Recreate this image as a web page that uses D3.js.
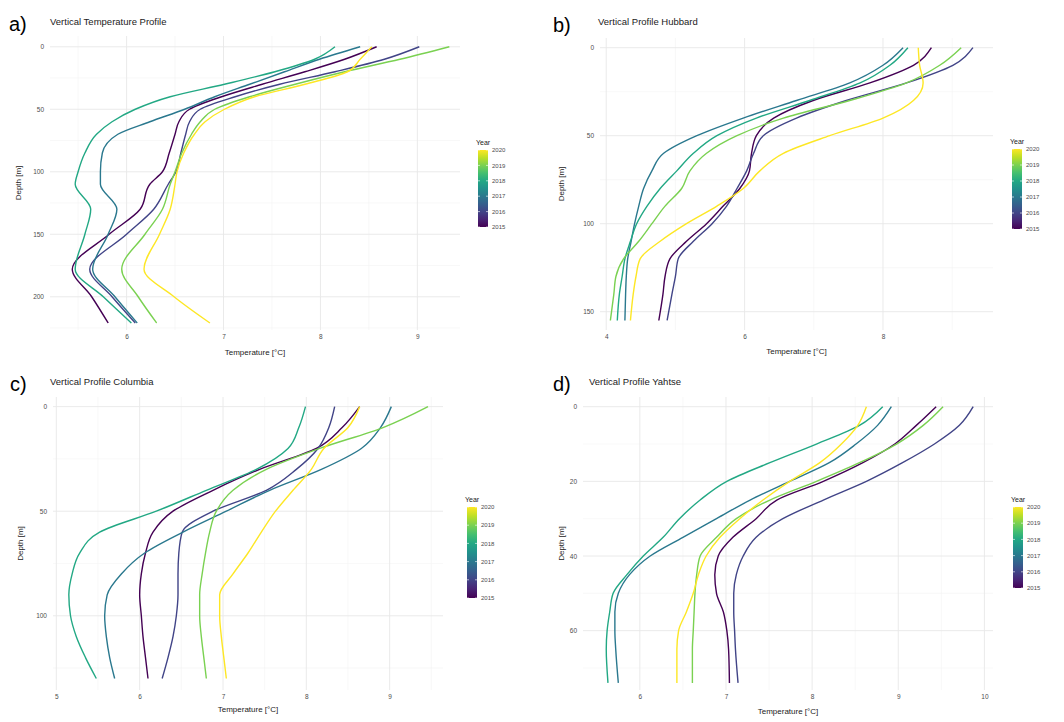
<!DOCTYPE html>
<html>
<head>
<meta charset="utf-8">
<script src="https://cdn.jsdelivr.net/npm/d3@7"></script>
<style>
  body { margin: 0; background: #fff; }
  svg { display: block; font-family: "Liberation Sans", Arial, sans-serif; }
</style>
</head>
<body>
<svg id="chart" width="1064" height="722"></svg>
<script>

var years = [2015, 2016, 2017, 2018, 2019, 2020];

// a) all glaciers
var aDepth = [0, 10, 20, 30, 40, 50, 60, 70, 85, 100, 110, 130, 150, 178, 200, 221];
var aTemps = [
    [8.58, 8.25, 7.84, 7.40, 6.98, 6.65, 6.54, 6.50, 6.44, 6.37, 6.24, 6.14, 5.82, 5.44, 5.64, 5.81],
    [9.02, 8.66, 8.15, 7.58, 7.12, 6.76, 6.65, 6.61, 6.56, 6.51, 6.43, 6.28, 6.00, 5.62, 5.85, 6.09],
    [8.41, 7.99, 7.63, 7.27, 6.91, 6.60, 6.24, 5.91, 5.75, 5.73, 5.73, 5.90, 5.81, 5.65, 5.88, 6.11],
    [8.15, 7.94, 7.53, 7.01, 6.45, 6.09, 5.85, 5.69, 5.57, 5.50, 5.47, 5.63, 5.57, 5.47, 5.76, 6.05],
    [9.33, 8.82, 8.25, 7.74, 7.27, 6.91, 6.76, 6.67, 6.57, 6.50, 6.45, 6.37, 6.19, 5.95, 6.12, 6.31],
    [8.53, 8.41, 8.28, 7.84, 7.32, 7.01, 6.81, 6.70, 6.59, 6.52, 6.50, 6.45, 6.34, 6.18, 6.49, 6.86]
];

// b) Hubbard
var bDepth = [0, 10, 20, 30, 40, 50, 60, 70, 80, 90, 100, 110, 120, 130, 140, 155];
var bTemps = [
    [8.70, 8.44, 7.81, 6.99, 6.42, 6.17, 6.10, 6.07, 5.93, 5.69, 5.45, 5.16, 4.92, 4.85, 4.82, 4.76],
    [9.30, 9.01, 8.34, 7.47, 6.75, 6.27, 6.13, 6.03, 5.89, 5.74, 5.53, 5.26, 5.04, 5.00, 4.95, 4.88],
    [8.29, 8.00, 7.52, 6.75, 5.98, 5.31, 4.83, 4.66, 4.54, 4.47, 4.41, 4.36, 4.31, 4.29, 4.28, 4.27],
    [8.36, 8.10, 7.67, 6.94, 6.17, 5.60, 5.26, 5.02, 4.78, 4.59, 4.44, 4.35, 4.27, 4.23, 4.19, 4.16],
    [9.13, 8.82, 8.34, 7.52, 6.56, 5.89, 5.45, 5.21, 5.09, 4.85, 4.66, 4.47, 4.25, 4.14, 4.11, 4.06],
    [8.51, 8.53, 8.58, 8.44, 8.00, 7.23, 6.56, 6.22, 5.98, 5.60, 5.16, 4.78, 4.49, 4.43, 4.39, 4.35]
];

// c) Columbia
var cDepth = [0, 10, 20, 30, 40, 50, 60, 70, 80, 90, 100, 110, 120, 130];
var cTemps = [
    [8.64, 8.43, 8.12, 7.44, 6.88, 6.40, 6.16, 6.07, 6.02, 6.00, 6.02, 6.04, 6.07, 6.10],
    [8.34, 8.27, 8.14, 7.88, 7.52, 6.88, 6.51, 6.47, 6.46, 6.46, 6.44, 6.40, 6.34, 6.27],
    [9.02, 8.89, 8.66, 8.18, 7.56, 7.04, 6.52, 6.06, 5.78, 5.61, 5.58, 5.60, 5.64, 5.70],
    [7.99, 7.91, 7.78, 7.40, 6.80, 6.20, 5.52, 5.28, 5.19, 5.15, 5.17, 5.24, 5.35, 5.48],
    [9.46, 8.92, 8.16, 7.52, 7.12, 6.92, 6.84, 6.79, 6.75, 6.72, 6.72, 6.74, 6.77, 6.80],
    [8.64, 8.50, 8.21, 8.06, 7.84, 7.63, 7.46, 7.30, 7.12, 6.96, 6.96, 6.98, 7.01, 7.04]
];

// d) Yahtse
var dDepth = [0, 5, 10, 15, 20, 25, 30, 35, 40, 45, 50, 55, 60, 65, 74];
var dTemps = [
    [9.44, 9.21, 8.96, 8.59, 8.13, 7.59, 7.35, 7.08, 6.91, 6.87, 6.89, 6.97, 7.01, 7.03, 7.04],
    [9.87, 9.71, 9.42, 9.05, 8.63, 8.13, 7.66, 7.35, 7.20, 7.12, 7.09, 7.09, 7.10, 7.11, 7.14],
    [8.92, 8.76, 8.51, 8.20, 7.74, 7.28, 6.89, 6.50, 6.12, 5.88, 5.75, 5.71, 5.71, 5.72, 5.75],
    [8.82, 8.55, 8.05, 7.51, 7.01, 6.70, 6.46, 6.27, 6.04, 5.85, 5.69, 5.65, 5.62, 5.61, 5.63],
    [9.52, 9.29, 8.98, 8.55, 8.05, 7.51, 7.12, 6.89, 6.70, 6.66, 6.64, 6.63, 6.62, 6.61, 6.61],
    [8.63, 8.53, 8.34, 8.09, 7.74, 7.43, 7.16, 6.93, 6.77, 6.68, 6.62, 6.54, 6.45, 6.43, 6.43]
];

var panels = [
    { tag: "a)", title: "Vertical Temperature Profile", depth: aDepth, temps: aTemps,
      x0: 50, x1: 460, y0: 36, y1: 330, tDom: [5.21, 9.44], dDom: [-8.6, 226.6],
      xTicks: [6, 7, 8, 9], xMinor: [5.5, 6.5, 7.5, 8.5],
      yTicks: [0, 50, 100, 150, 200], yMinor: [25, 75, 125, 175, 225],
      tagX: 9, tagY: 31, titleX: 50, titleY: 25, xTitleY: 355, yTitleX: 21,
      legX: 478, legY: 150, legH: 77 },
    { tag: "b)", title: "Vertical Profile Hubbard", depth: bDepth, temps: bTemps,
      x0: 600, x1: 993, y0: 38, y1: 330, tDom: [3.91, 9.59], dDom: [-5.5, 160.4],
      xTicks: [4, 6, 8], xMinor: [5, 7, 9],
      yTicks: [0, 50, 100, 150], yMinor: [25, 75, 125],
      tagX: 553, tagY: 32, titleX: 598, titleY: 25, xTitleY: 354, yTitleX: 564,
      legX: 1012, legY: 149, legH: 80 },
    { tag: "c)", title: "Vertical Profile Columbia", depth: cDepth, temps: cTemps,
      x0: 53, x1: 443, y0: 397, y1: 690, tDom: [4.96, 9.64], dDom: [-4.6, 135.5],
      xTicks: [5, 6, 7, 8, 9], xMinor: [5.5, 6.5, 7.5, 8.5, 9.5],
      yTicks: [0, 50, 100], yMinor: [25, 75, 125],
      tagX: 10, tagY: 391, titleX: 50, titleY: 385, xTitleY: 712, yTitleX: 23,
      legX: 467, legY: 507, legH: 91 },
    { tag: "d)", title: "Vertical Profile Yahtse", depth: dDepth, temps: dTemps,
      x0: 583, x1: 993, y0: 397, y1: 690, tDom: [5.34, 10.1], dDom: [-2.6, 75.9],
      xTicks: [6, 7, 8, 9, 10], xMinor: [6.5, 7.5, 8.5, 9.5],
      yTicks: [0, 20, 40, 60], yMinor: [10, 30, 50, 70],
      tagX: 553, tagY: 391, titleX: 589, titleY: 385, xTitleY: 714, yTitleX: 564,
      legX: 1013, legY: 507, legH: 81 }
];

var svg = d3.select("#chart");

var color = function (yr) {
    return d3.interpolateViridis((yr - 2015) / 5);
};

// colourbar gradient, bottom (2015) to top (2020)
var grad = svg.append("defs").append("linearGradient")
    .attr("id", "viridisBar")
    .attr("x1", 0).attr("y1", 1).attr("x2", 0).attr("y2", 0);
d3.range(0, 1.0001, 0.1).forEach(function (s) {
    grad.append("stop").attr("offset", s).attr("stop-color", d3.interpolateViridis(s));
});

panels.forEach(function (p) {

    var x = d3.scaleLinear().domain(p.tDom).range([p.x0, p.x1]);
    var y = d3.scaleLinear().domain(p.dDom).range([p.y0, p.y1]);

    var g = svg.append("g");

    // grid
    g.selectAll(".vmin").data(p.xMinor).enter().append("line")
        .attr("x1", d => x(d)).attr("x2", d => x(d))
        .attr("y1", p.y0).attr("y2", p.y1)
        .attr("stroke", "#f3f3f3").attr("stroke-width", 0.6);
    g.selectAll(".hmin").data(p.yMinor.filter(d => y(d) <= p.y1)).enter().append("line")
        .attr("x1", p.x0).attr("x2", p.x1)
        .attr("y1", d => y(d)).attr("y2", d => y(d))
        .attr("stroke", "#f3f3f3").attr("stroke-width", 0.6);
    g.selectAll(".vmaj").data(p.xTicks).enter().append("line")
        .attr("x1", d => x(d)).attr("x2", d => x(d))
        .attr("y1", p.y0).attr("y2", p.y1)
        .attr("stroke", "#e8e8e8").attr("stroke-width", 0.9);
    g.selectAll(".hmaj").data(p.yTicks).enter().append("line")
        .attr("x1", p.x0).attr("x2", p.x1)
        .attr("y1", d => y(d)).attr("y2", d => y(d))
        .attr("stroke", "#e8e8e8").attr("stroke-width", 0.9);

    // axes
    var xAxis = g.append("g")
        .attr("transform", "translate(0," + p.y1 + ")")
        .call(d3.axisBottom(x).tickValues(p.xTicks).tickFormat(d3.format("d"))
            .tickSize(0).tickPadding(4.5));
    var yAxis = g.append("g")
        .attr("transform", "translate(" + p.x0 + ",0)")
        .call(d3.axisLeft(y).tickValues(p.yTicks).tickFormat(d3.format("d"))
            .tickSize(0).tickPadding(6));
    [xAxis, yAxis].forEach(function (ax) {
        ax.select(".domain").remove();
        ax.selectAll("text")
            .attr("fill", "#4d4d4d")
            .style("font-size", "6.5px")
            .style("font-family", "'Liberation Sans', Arial, sans-serif");
    });

    // profiles
    var line = d3.line()
        .x(d => x(d.t))
        .y(d => y(d.d))
        .curve(d3.curveMonotoneY);

    var series = years.map(function (yr, i) {
        return {
            year: yr,
            pts: p.depth.map(function (dd, j) { return { d: dd, t: p.temps[i][j] }; })
        };
    });

    g.selectAll(".profile").data(series).enter().append("path")
        .attr("d", d => line(d.pts))
        .attr("fill", "none")
        .attr("stroke", d => color(d.year))
        .attr("stroke-width", 1.4)
        .attr("stroke-linejoin", "round");

    // titles
    g.append("text")
        .attr("x", p.tagX).attr("y", p.tagY)
        .style("font-size", "20px")
        .attr("fill", "#000")
        .text(p.tag);
    g.append("text")
        .attr("x", p.titleX).attr("y", p.titleY)
        .style("font-size", "9.5px")
        .attr("fill", "#222")
        .text(p.title);
    g.append("text")
        .attr("x", (p.x0 + p.x1) / 2).attr("y", p.xTitleY)
        .attr("text-anchor", "middle")
        .style("font-size", "8px")
        .attr("fill", "#222")
        .text("Temperature [°C]");
    g.append("text")
        .attr("transform", "translate(" + p.yTitleX + "," + (p.y0 + p.y1) / 2 + ") rotate(-90)")
        .attr("text-anchor", "middle")
        .style("font-size", "8px")
        .attr("fill", "#222")
        .text("Depth [m]");

    // legend
    var leg = g.append("g");
    var ly = d3.scaleLinear().domain([2015, 2020]).range([p.legY + p.legH, p.legY]);
    leg.append("text")
        .attr("x", p.legX - 2).attr("y", p.legY - 5)
        .style("font-size", "7px")
        .attr("fill", "#222")
        .text("Year");
    leg.append("rect")
        .attr("x", p.legX).attr("y", p.legY)
        .attr("width", 10).attr("height", p.legH)
        .attr("fill", "url(#viridisBar)");
    leg.selectAll(".lt").data(years).enter().append("line")
        .attr("x1", p.legX).attr("x2", p.legX + 2)
        .attr("y1", d => ly(d)).attr("y2", d => ly(d))
        .attr("stroke", "#fff").attr("stroke-width", 0.6);
    leg.selectAll(".rt").data(years).enter().append("line")
        .attr("x1", p.legX + 8).attr("x2", p.legX + 10)
        .attr("y1", d => ly(d)).attr("y2", d => ly(d))
        .attr("stroke", "#fff").attr("stroke-width", 0.6);
    leg.selectAll(".ll").data(years).enter().append("text")
        .attr("x", p.legX + 14).attr("y", d => ly(d))
        .attr("dy", "0.35em")
        .style("font-size", "6px")
        .attr("fill", "#4d4d4d")
        .text(d => d);
});

</script>
</body>
</html>
